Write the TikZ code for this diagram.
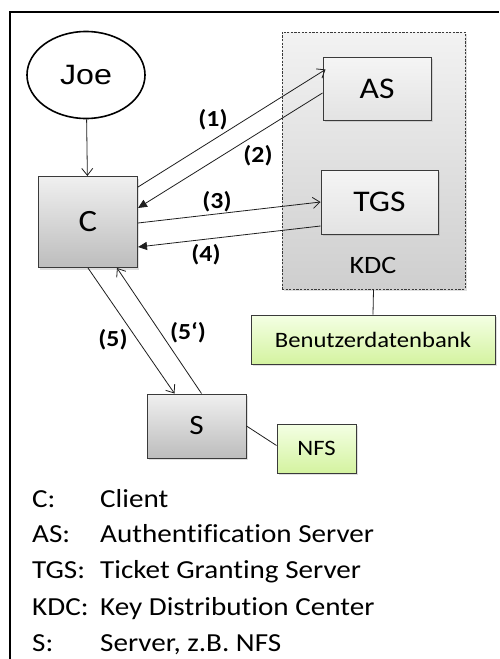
\documentclass[tikz,border=0pt]{standalone}
\usepackage{fontspec}
\setmainfont{Carlito}[FakeStretch=1.12,Ligatures=CommonOff]
\newfontfamily\joefont{Liberation Sans}[FakeStretch=1.15]
\usetikzlibrary{arrows.meta,positioning,shadows,shapes.geometric}
\definecolor{BoxLine}{HTML}{3A3A3A}
\definecolor{GreenTop}{HTML}{F4FFE4}
\definecolor{GreenBot}{HTML}{D4F3A0}
\definecolor{InkGray}{HTML}{1E1E1E}

\begin{document}
\begin{tikzpicture}[x=1pt,y=-1pt,
 open/.style={-{Straight Barb[length=7pt,width=11pt]},line width=.8pt,draw=InkGray},
 back/.style={-{Triangle[length=9pt,width=8pt]},line width=.8pt,draw=InkGray},
 srv/.style={draw=BoxLine,line width=1pt,top color=gray!12,bottom color=gray!52,
             inner sep=0pt,font=\fontsize{31}{34}\selectfont,
             drop shadow={opacity=.25,shadow xshift=1.5pt,shadow yshift=-2pt}},
 kdcbox/.style={srv,top color=gray!8,bottom color=gray!22,font=\fontsize{30}{33}\selectfont},
 group/.style={draw=BoxLine,line width=.9pt,dash pattern=on 2.2pt off 1.4pt,
               top color=gray!10,bottom color=gray!38,
               drop shadow={opacity=.25,shadow xshift=1.5pt,shadow yshift=-2pt}},
 store/.style={draw=BoxLine,line width=1pt,top color=GreenTop,bottom color=GreenBot,
               inner sep=0pt,font=\fontsize{22}{24}\selectfont,
               drop shadow={opacity=.25,shadow xshift=1.5pt,shadow yshift=-2pt}},
 num/.style={font=\bfseries\fontsize{23}{25}\selectfont,inner sep=0pt},
 legend/.style={anchor=base west,inner sep=0pt,font=\fontsize{26}{29}\selectfont}]
\useasboundingbox (0,0) rectangle (499,659);
% frame, cut off at the right and bottom
\draw[line width=1.6pt] (10,659) -- (10,12) -- (499,12);

% user and client
\node[ellipse,draw,line width=1.6pt,minimum width=118pt,minimum height=87pt,
      font=\joefont\fontsize{28}{30}\selectfont] (joe) at (86,75) {Joe};
\node[srv,minimum width=99pt,minimum height=91pt] (c) at (88,222) {C};

% key distribution center
\node[group,minimum width=183pt,minimum height=257pt] (kdc) at (373.5,160.5) {};
\node[font=\fontsize{25}{27}\selectfont,inner sep=0pt] (kdcl) at (373,265) {KDC};
\node[kdcbox,minimum width=108pt,minimum height=63pt] (as) at (377,88.5) {AS};
\node[kdcbox,minimum width=117pt,minimum height=64pt] (tgs) at (379.5,202) {TGS};
\node[store,minimum width=244pt,minimum height=49pt] (db) at (373,339.5) {Benutzerdatenbank};

% server
\node[srv,minimum width=99pt,minimum height=64pt,font=\fontsize{28}{30}\selectfont] (s) at (196.5,426) {S};
\node[store,minimum width=79pt,minimum height=49pt] (nfs) at (316.5,448.5) {NFS};

% connectors
\draw[open] (joe) -- (c);
\draw[open] ([yshift=35pt]c.east) -- ([xshift=3pt,yshift=19pt]as.west);
\draw[back] ([yshift=-4.5pt]as.west) -- ([yshift=14pt]c.east);
\draw[open] ([yshift=-1pt]c.east) -- (tgs.west);
\draw[back] ([yshift=-24pt]tgs.west) -- ([yshift=-25pt]c.east);
\draw[open] (c.south) -- ([xshift=-22pt]s.north);
\draw[open] ([xshift=5pt]s.north) -- ([xshift=29pt]c.south);
\draw[line width=.8pt,draw=InkGray] (s.east) -- ([yshift=3pt]nfs.west);
\draw[line width=.8pt,draw=InkGray] (kdc.south) -- (db.north);

% step labels
\node[num] (l1) at (213,120) {(1)};
\node[num] (l2) at (258,156) {(2)};
\node[num] (l3) at (217,202) {(3)};
\node[num] (l4) at (206,255) {(4)};
\node[num] (l5) at (113,340) {(5)};
\node[num] (l5b) at (188,333) {(5‘)};

% legend
\foreach \k/\t/\y [count=\i] in {C:/Client/507,AS:/Authentification Server/542,
    TGS:/Ticket Granting Server/578,KDC:/Key Distribution Center/615,
    S:/{Server, z.B. NFS}/651}{
  \node[legend] (key\i) at (32,\y) {\k};
  \node[legend] (txt\i) at (100,\y) {\t};
}
\end{tikzpicture}
\end{document}
